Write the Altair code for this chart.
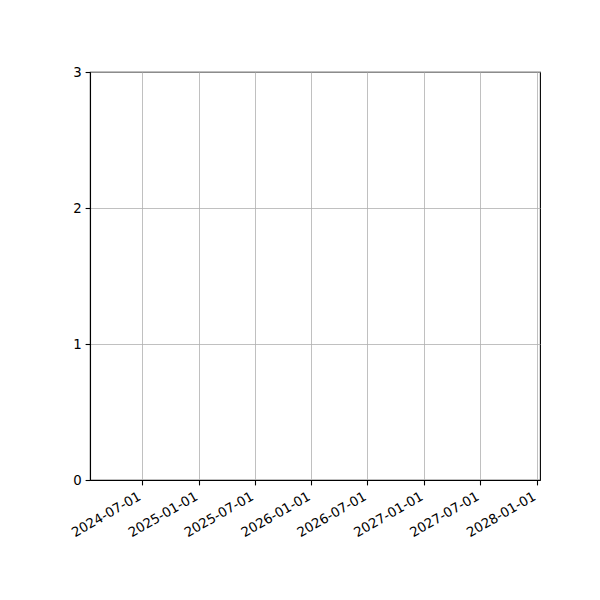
import altair as alt
import pandas as pd

# No data series in the reference: empty plot with a date x axis and 0..3 y axis
dates = []
values = []

x_domain = [(2024, 1, 15), (2028, 1, 11)]
x_ticks = [(2024, 7, 1), (2025, 1, 1), (2025, 7, 1), (2026, 1, 1),
           (2026, 7, 1), (2027, 1, 1), (2027, 7, 1), (2028, 1, 1)]
y_ticks = [0, 1, 2, 3]

df = pd.DataFrame({"date": pd.to_datetime(pd.Series(dates, dtype="object")),
                   "value": pd.Series(values, dtype="float")})

def dt(t):
    return alt.DateTime(year=t[0], month=t[1], date=t[2], utc=True)

chart = alt.Chart(df).mark_point(color="#1f77b4").encode(
    x=alt.X("date:T",
            scale=alt.Scale(type="utc", domain=[dt(d) for d in x_domain]),
            axis=alt.Axis(values=[dt(d) for d in x_ticks], format="%Y-%m-%d",
                          labelAngle=330, labelAlign="right", labelBaseline="top",
                          labelOffset=-6, labelPadding=4,
                          title=None)),
    y=alt.Y("value:Q",
            scale=alt.Scale(domain=[0, 3], nice=False, zero=False),
            axis=alt.Axis(values=y_ticks, format="d", title=None, labelPadding=4)),
).properties(
    width=450, height=408,
    autosize=alt.AutoSizeParams(type="none"),
    padding={"left": 82, "top": 64, "right": 52, "bottom": 112},
).configure_view(
    stroke="black", strokeWidth=1.1
).configure_axis(
    grid=True, gridColor="#b0b0b0", gridWidth=0.8, gridOpacity=1,
    domainColor="black", domainWidth=1.1,
    tickColor="black", tickWidth=1.1, tickSize=4.9,
    labelColor="black", labelFont="DejaVu Sans", labelFontSize=13.3,
    labelFlush=False, labelOverlap=False,
)

chart.save("out.html", embed_options={"renderer": "svg", "actions": False})
